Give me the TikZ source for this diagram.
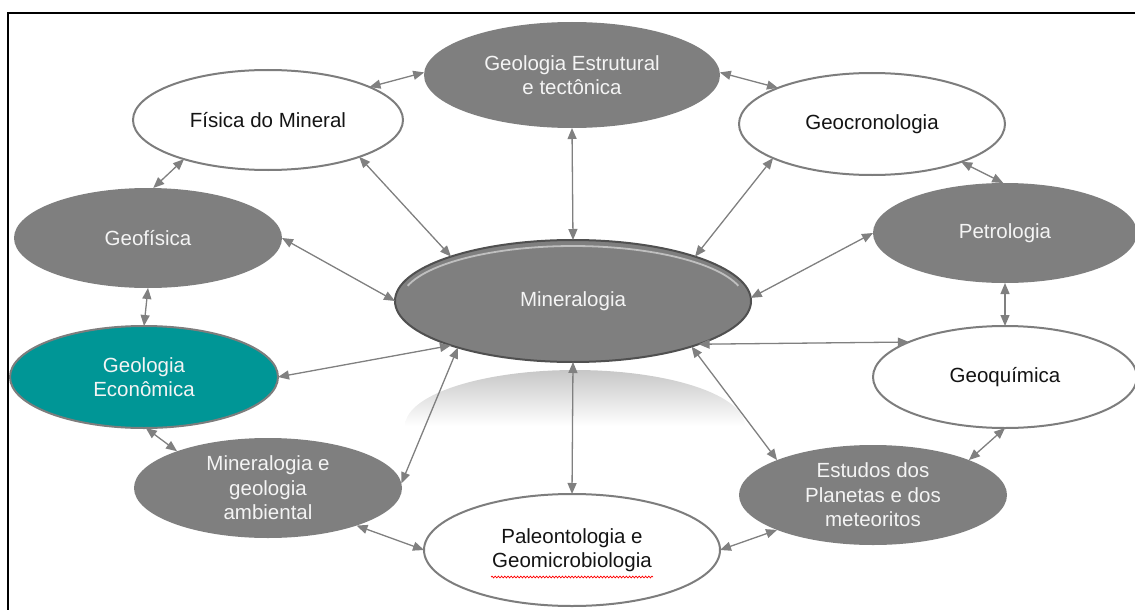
\documentclass[tikz,border=0pt]{standalone}
\usepackage{fontspec}
\setmainfont{Liberation Sans}
\usetikzlibrary{shapes.geometric,arrows.meta,decorations.pathmorphing}
\definecolor{topicgray}{RGB}{127,127,127}
\definecolor{edgegray}{RGB}{125,125,125}
\definecolor{linkgray}{RGB}{128,128,128}
\definecolor{lighttext}{RGB}{244,244,244}
\definecolor{darktext}{RGB}{20,20,20}
\definecolor{tealfill}{RGB}{0,150,150}
\definecolor{hubedge}{RGB}{80,80,80}
\begin{document}
\begin{tikzpicture}[x=1pt,y=-1pt,
  topic/.style={ellipse, inner sep=0pt, outer sep=0pt, align=center,
    font=\fontsize{20.5}{24.5}\selectfont},
  darktopic/.style={topic, fill=topicgray, text=lighttext},
  lighttopic/.style={topic, fill=white, draw=edgegray, line width=2pt, text=darktext},
  econtopic/.style={topic, fill=tealfill, draw=edgegray, line width=2pt, text=lighttext},
  hubtopic/.style={topic, fill=topicgray, draw=hubedge, line width=2pt, text=lighttext},
  link/.style={{Triangle[length=11pt,width=9pt]}-{Triangle[length=11pt,width=9pt]},
    draw=linkgray, fill=linkgray, line width=1.3pt},
  squiggle/.style={draw=red, line width=0.7pt, decorate,
    decoration={snake, amplitude=0.9pt, segment length=3.2pt}},
]
\useasboundingbox (0,0) rectangle (1135,610);

% outer frame
\draw[line width=2pt, black] (8,640) -- (8,13) -- (1145,13);

% soft reflection under the central topic
\shade[top color=black!22, bottom color=white]
  plot[domain=0:180, samples=60] ({575+170*cos(\x)}, {426-56*sin(\x)}) -- cycle;

% topics
\node[darktopic, minimum width=296pt, minimum height=106pt] (estr) at (572,75)
  {Geologia Estrutural\\e tectônica};
\node[lighttopic, minimum width=270pt, minimum height=100pt] (fis) at (268,120)
  {Física do Mineral};
\node[lighttopic, minimum width=266pt, minimum height=102pt] (geoc) at (872,124)
  {Geocronologia};
\node[darktopic, minimum width=268pt, minimum height=100pt] (geof) at (148,238)
  {Geofísica};
\node[darktopic, minimum width=264pt, minimum height=100pt] (petro) at (1005,233)
  {Petrologia};
\node[hubtopic, minimum width=356pt, minimum height=122pt] (mine) at (573,301)
  {Mineralogia};
\node[econtopic, minimum width=268pt, minimum height=102pt] (econ) at (144,377)
  {Geologia\\Econômica};
\node[lighttopic, minimum width=264pt, minimum height=102pt] (quim) at (1005,377)
  {Geoquímica};
\node[darktopic, minimum width=268pt, minimum height=100pt] (amb) at (268,488)
  {Mineralogia e\\geologia\\ambiental};
\node[lighttopic, minimum width=296pt, minimum height=112pt] (paleo) at (572,550)
  {Paleontologia e\\Geomicrobiologia};
\node[darktopic, minimum width=268pt, minimum height=100pt] (estu) at (873,495)
  {Estudos dos\\Planetas e dos\\meteoritos};

% bevel highlight on the central topic
\draw[white, opacity=0.5, line width=1.8pt]
  plot[domain=16:164, samples=60] ({573+172*cos(\x)}, {301-55*sin(\x)});

% spell-check underline
\draw[squiggle] ([xshift=-81pt, yshift=-27pt]paleo.center)
  -- ([xshift=81pt, yshift=-27pt]paleo.center);

% connectors
\draw[link] (fis.18) -- (estr.179);
\draw[link] (estr.1) -- (geoc.159);
\draw[link] (fis.205) -- (geof.84);
\draw[link] (geoc.337) -- (petro.92);
\draw[link] (estr.south) -- (mine.north);
\draw[link] (fis.338) -- (mine.160);
\draw[link] (geoc.199) -- (mine.20);
\draw[link] (geof.east) -- (mine.west);
\draw[link] (petro.west) -- (mine.1);
\draw[link] (geof.south) -- (econ.north);
\draw[link] (petro.south) -- (quim.north);
\draw[link] (mine.200) -- (econ.east);
\draw[link] (mine.341) -- (quim.160);
\draw[link] (econ.272) -- (amb.158);
\draw[link] (quim.270) -- (estu.20);
\draw[link] (mine.202) -- (amb.2);
\draw[link] (mine.south) -- (paleo.north);
\draw[link] (mine.339) -- (estu.160);
\draw[link] (amb.337) -- (paleo.west);
\draw[link] (paleo.east) -- (estu.200);
\end{tikzpicture}
\end{document}
